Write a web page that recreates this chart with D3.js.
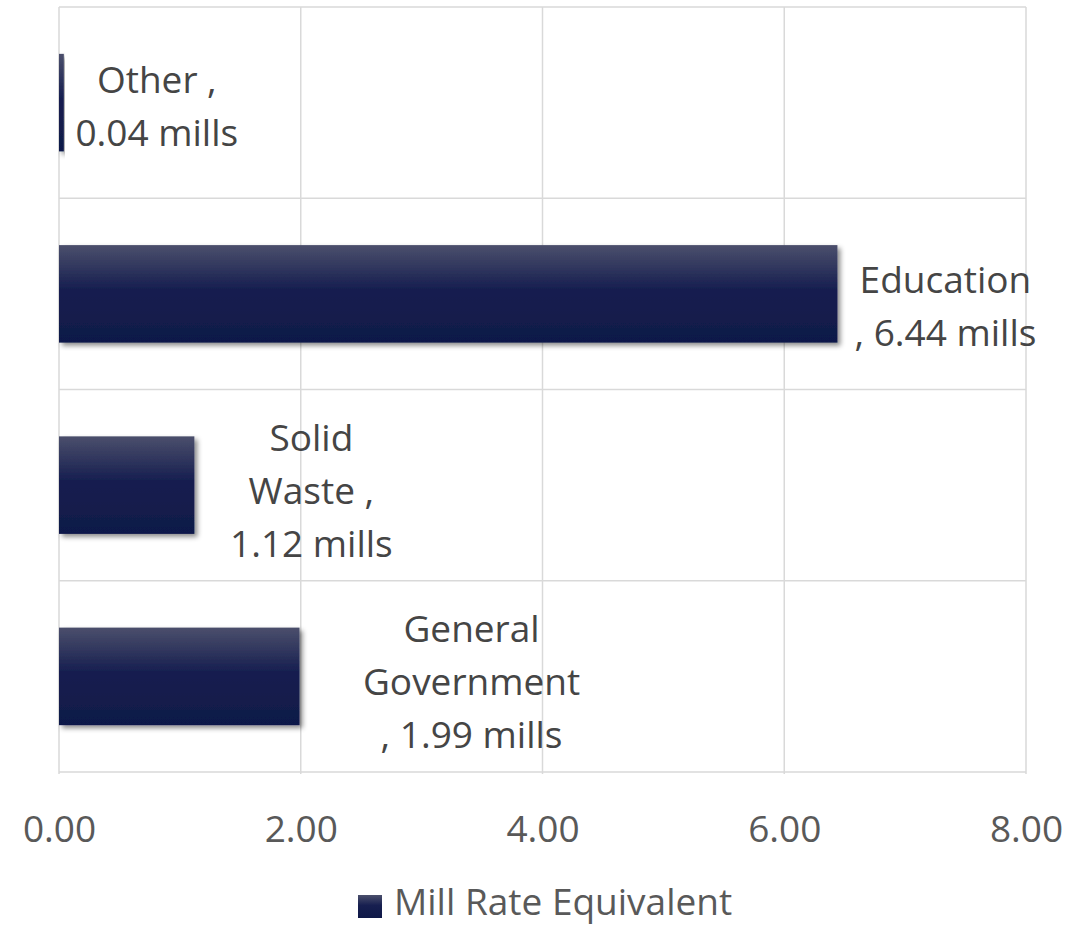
<!DOCTYPE html>
<html lang="en">
<head>
<meta charset="UTF-8">
<title>Mill Rate Equivalent</title>
<script src="https://d3js.org/d3.v7.min.js"></script>
<style>
  body { margin: 0; background: #fff; }
  text { font-family: "Open Sans", sans-serif; }
</style>
</head>
<body>
<div id="chart"></div>
<script>
// data
var categories = ["Other", "Education", "Solid Waste", "General Government"];
var values = [0.04, 6.44, 1.12, 1.99];
var labelLines = [
  ["Other ,", "0.04 mills"],
  ["Education", ", 6.44 mills"],
  ["Solid", "Waste ,", "1.12 mills"],
  ["General", "Government", ", 1.99 mills"]
];
var xTicks = [0, 2, 4, 6, 8];
var seriesName = "Mill Rate Equivalent";

var W = 1089, H = 927;
var margin = {top: 7, right: 63, bottom: 155, left: 59};
var width = W - margin.left - margin.right,
    height = H - margin.top - margin.bottom;

var svg = d3.select("#chart").append("svg")
    .attr("width", W).attr("height", H);

var defs = svg.append("defs");
var grad = defs.append("linearGradient").attr("id", "barGrad")
    .attr("x1", 0).attr("y1", 0).attr("x2", 0).attr("y2", 1);
grad.append("stop").attr("offset", "0%").attr("stop-color", "#4b4f6c");
grad.append("stop").attr("offset", "45%").attr("stop-color", "#171f50");
grad.append("stop").attr("offset", "100%").attr("stop-color", "#0f1948");

var shadow = defs.append("filter").attr("id", "shadow")
    .attr("x", "-10%").attr("y", "-20%").attr("width", "130%").attr("height", "150%");
shadow.append("feDropShadow").attr("dx", 3).attr("dy", 3).attr("stdDeviation", 2.5)
    .attr("flood-color", "#000").attr("flood-opacity", 0.45);

var g = svg.append("g").attr("transform", "translate(" + margin.left + "," + margin.top + ")");

var x = d3.scaleLinear().domain([0, 8]).range([0, width]);
var y = d3.scaleBand().domain(categories).range([0, height]).paddingInner(0.49).paddingOuter(0.245);
var yRows = d3.scaleBand().domain(categories).range([0, height]);

// gridlines
g.selectAll(".vgrid").data(xTicks).enter().append("line")
    .attr("x1", function(d) { return x(d); }).attr("x2", function(d) { return x(d); })
    .attr("y1", 0).attr("y2", height + 2)
    .attr("stroke", "#d9d9d9").attr("stroke-width", 1.5);
g.selectAll(".hgrid").data(categories.concat(["_end"])).enter().append("line")
    .attr("x1", 0).attr("x2", width)
    .attr("y1", function(d) { return d === "_end" ? height : yRows(d); })
    .attr("y2", function(d) { return d === "_end" ? height : yRows(d); })
    .attr("stroke", "#d9d9d9").attr("stroke-width", 1.5);

// bars
g.selectAll(".bar").data(categories).enter().append("rect")
    .attr("x", x(0))
    .attr("y", function(d) { return y(d); })
    .attr("width", function(d, i) { return x(values[i]) - x(0); })
    .attr("height", y.bandwidth())
    .attr("fill", "url(#barGrad)")
    .attr("filter", "url(#shadow)");

// data labels (offsets from bar end, as placed in the original)
var labelDx = [93, 108, 117, 172];
var labelDy = [4, 13, 6, 6];
var lineH = 53;
categories.forEach(function(c, i) {
  var lines = labelLines[i];
  var cx = x(values[i]) + labelDx[i];
  var cy = yRows(c) + yRows.bandwidth() / 2 + labelDy[i];
  var t = g.append("text")
      .attr("text-anchor", "middle")
      .attr("fill", "#454545")
      .style("font-size", "37px");
  lines.forEach(function(l, j) {
    t.append("tspan")
      .attr("x", cx)
      .attr("y", cy + (j - (lines.length - 1) / 2) * lineH)
      .attr("dy", "0.35em")
      .text(l);
  });
});

// x axis
var xAxis = g.append("g").attr("transform", "translate(0," + height + ")")
    .call(d3.axisBottom(x).tickValues(xTicks).tickFormat(d3.format(".2f")).tickSize(0).tickPadding(44));
xAxis.select(".domain").remove();
xAxis.selectAll("text").attr("fill", "#595959").style("font-size", "37px").attr("font-family", "Open Sans");

// legend
var legend = svg.append("g").attr("transform", "translate(358,895)");
legend.append("rect").attr("width", 24).attr("height", 23).attr("fill", "url(#barGrad)");
legend.append("text").attr("x", 36).attr("y", 20)
    .attr("fill", "#595959").style("font-size", "37px").text(seriesName);
</script>
</body>
</html>
